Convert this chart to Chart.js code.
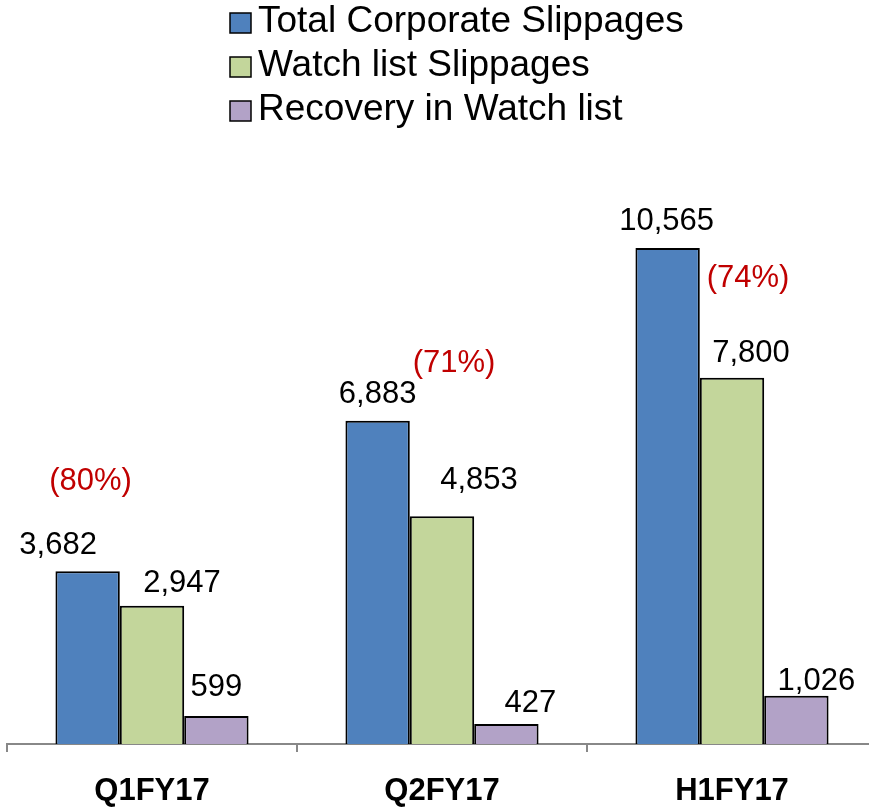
<!DOCTYPE html>
<html>
<head>
<meta charset="utf-8">
<script src="https://cdn.jsdelivr.net/npm/chart.js@4.4.0/dist/chart.umd.min.js"></script>
<style>
  html, body { margin: 0; padding: 0; background: #fff; overflow: hidden; }
  #wrap { width: 884px; height: 808px; position: relative; }
</style>
</head>
<body>
<div id="wrap"><canvas id="c" width="884" height="808"></canvas></div>
<script>
// ---- data ----
const categories = ['Q1FY17', 'Q2FY17', 'H1FY17'];
const seriesNames = ['Total Corporate Slippages', 'Watch list Slippages', 'Recovery in Watch list'];
const totalSlippages = [3682, 6883, 10565];
const watchListSlippages = [2947, 4853, 7800];
const recoveryWatchList = [599, 427, 1026];
const pctLabels = ['(80%)', '(71%)', '(74%)'];

// ---- styles ----
const colors = ['#4F81BD', '#C3D69B', '#B2A2C7'];
const FONT = '"Liberation Sans", Arial, sans-serif';
// label offsets per series / point: [dx, gap above bar top]
const labelOffsets = [
  [[-29.5, 17], [0, 18], [-1, 18]],
  [[30, 14], [37, 27], [19, 16]],
  [[0, 20], [24, 12], [20, 6]]
];
// percent label offsets relative to category centre / blue bar top
const pctOffsets = [[-61.5, 81], [12, 49], [16, -39]];

const fmt = v => v.toLocaleString('en-US');

const valueLabels = {
  id: 'valueLabels',
  afterDatasetsDraw(chart) {
    const ctx = chart.ctx;
    ctx.save();
    ctx.font = '31px ' + FONT;
    ctx.fillStyle = '#000';
    ctx.textAlign = 'center';
    ctx.textBaseline = 'alphabetic';
    chart.data.datasets.forEach((ds, di) => {
      const meta = chart.getDatasetMeta(di);
      meta.data.forEach((bar, i) => {
        const [dx, gap] = labelOffsets[di][i];
        ctx.fillText(fmt(ds.data[i]), bar.x + dx, bar.y - gap);
      });
    });
    // percentages
    ctx.fillStyle = '#C00000';
    const xs = chart.scales.x;
    const blue = chart.getDatasetMeta(0);
    pctLabels.forEach((t, i) => {
      const [dx, up] = pctOffsets[i];
      ctx.fillText(t, xs.getPixelForValue(i) + dx, blue.data[i].y - up);
    });
    ctx.restore();
  }
};

const stackLegend = {
  id: 'stackLegend',
  afterDraw(chart) {
    const ctx = chart.ctx;
    ctx.save();
    const rows = [22, 66, 110];
    ctx.font = '37px ' + FONT;
    ctx.textBaseline = 'middle';
    ctx.textAlign = 'left';
    chart.data.datasets.forEach((ds, i) => {
      const cy = rows[i] + 1;
      ctx.fillStyle = ds.backgroundColor;
      ctx.fillRect(230, cy - 10, 21, 20);
      ctx.strokeStyle = '#000';
      ctx.lineWidth = 1.5;
      ctx.strokeRect(230, cy - 10, 21, 20);
      ctx.fillStyle = '#000';
      ctx.fillText(ds.label, 258, rows[i]);
    });
    ctx.restore();
  }
};

new Chart(document.getElementById('c'), {
  type: 'bar',
  data: {
    labels: categories,
    datasets: [
      { label: seriesNames[0], data: totalSlippages, backgroundColor: colors[0] },
      { label: seriesNames[1], data: watchListSlippages, backgroundColor: colors[1] },
      { label: seriesNames[2], data: recoveryWatchList, backgroundColor: colors[2] }
    ]
  },
  options: {
    responsive: false,
    animation: false,
    layout: { padding: { left: 7, right: 7, top: 180.6, bottom: 1 } },
    datasets: {
      bar: {
        categoryPercentage: 0.666,
        barPercentage: 1,
        borderColor: '#000',
        borderWidth: 2
      }
    },
    plugins: {
      legend: { display: false },
      tooltip: { enabled: false }
    },
    scales: {
      x: {
        afterFit(scale) { scale.height = 63; },
        grid: {
          offset: true,
          drawOnChartArea: false,
          drawTicks: true,
          tickLength: 8,
          color: '#888888',
          lineWidth: 2
        },
        border: { display: true, color: '#888888', width: 2 },
        ticks: {
          color: '#000',
          padding: 24,
          font: { family: FONT, size: 31, weight: 'bold', lineHeight: 1 }
        }
      },
      y: {
        display: false,
        min: 0,
        max: 12000
      }
    }
  },
  plugins: [valueLabels, stackLegend]
});
</script>
</body>
</html>
